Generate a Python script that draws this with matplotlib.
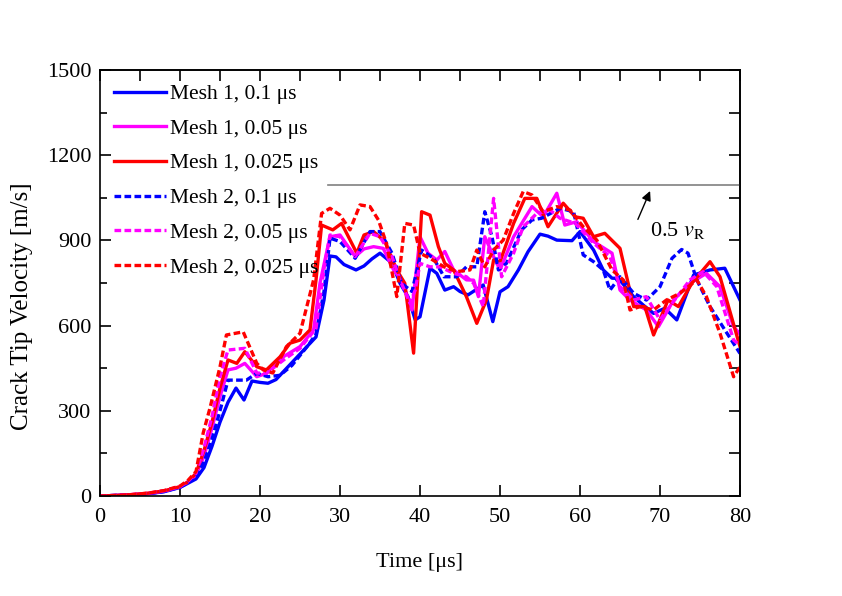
import matplotlib
matplotlib.use("Agg")
import matplotlib.pyplot as plt
from matplotlib.ticker import MultipleLocator

plt.rcParams['font.family'] = ['Liberation Serif', 'DejaVu Serif']
plt.rcParams['mathtext.fontset'] = 'stix'

# Mesh 1, 0.1 us
t_m1_01 = [0, 2, 4, 6, 8, 10, 11, 12, 13, 14, 15, 16, 17, 18, 19, 20, 21, 22, 23, 24, 25, 26, 27, 28, 28.75, 29.5,
           30.5, 32, 33, 34, 35, 36.5, 37.5, 38.5, 39.4, 40, 41.25, 42.1, 43.1, 44.2, 45, 46, 47.9, 49.1, 50, 51,
           52.3, 53.5, 55, 56, 57.1, 59, 60, 61.7, 62.9, 64, 64.8, 66.7, 68, 69.2, 70.6, 72.1, 74.2, 76.25, 78.1, 80]
v_m1_01 = [0, 2, 4, 8, 15, 30, 45, 60, 100, 175, 260, 330, 380, 338, 405, 400, 397, 410, 440, 470, 500, 530, 560, 690,
           845, 842, 815, 796, 810, 835, 855, 820, 749, 702, 620, 631, 802, 784, 725, 737, 720, 708, 743, 614, 719, 737,
           796, 860, 922, 915, 901, 899, 931, 866, 796, 767, 766, 702, 670, 643, 661, 620, 778, 796, 802, 690]

# Mesh 1, 0.05 us
t_m1_005 = [0, 2, 4, 6, 8, 10, 11, 12, 13, 14, 15, 16, 17, 18.1, 19.6, 20.8, 22.9, 25, 26.7, 27.5, 28.75, 30, 31.9, 33,
            34.2, 35.4, 36.7, 37.7, 39, 40, 41, 42.1, 43.1, 44.2, 45.8, 46.7, 47.3, 48.1, 49.2, 50, 51.7, 54, 55.4,
            57.1, 58.1, 59.6, 61.7, 64, 65, 66.25, 68.3, 69.8, 71.7, 73.75, 75.8, 77.5, 79.2, 80]
v_m1_005 = [0, 2, 5, 9, 17, 32, 50, 75, 140, 240, 350, 444, 450, 467, 420, 432, 490, 526, 585, 750, 913, 919, 843, 870,
            878, 872, 796, 761, 655, 913, 855, 831, 861, 796, 761, 760, 702, 913, 843, 796, 913, 1019, 983,
            1066, 954, 966, 896, 855, 725, 690, 655, 596, 690, 749, 784, 737, 596, 570]

# Mesh 1, 0.025 us
t_m1_0025 = [0, 2, 4, 6, 8, 10, 11, 12, 13, 14, 15, 16, 17.1, 18.1, 19.6, 20.8, 22.5, 23.75, 25, 26.25, 27, 27.7, 29.1,
             30.2, 32.1, 33, 34.2, 35.6, 37.1, 38.1, 39.2, 40.2, 41.25, 42.3, 43.1, 44.2, 45.8, 47.1, 48.3, 49.2, 50,
             51.7, 53.1, 54.6, 56, 57.9, 59.4, 60.4, 61.7, 63.1, 65, 66.7, 68.1, 69.2, 71, 72.3, 74, 76.25, 77.5, 80]
v_m1_0025 = [0, 2, 5, 10, 18, 33, 50, 80, 160, 260, 380, 479, 467, 508, 455, 444, 490, 538, 549, 585, 760, 954, 937,
             960, 855, 919, 931, 896, 796, 749, 503, 1001, 989, 878, 819, 796, 702, 608, 690, 831, 825,
             960, 1048, 1048, 948, 1031, 983, 978, 913, 925, 872, 667, 667, 567, 690, 667, 750, 825, 772, 526]

# Mesh 2, 0.1 us
t_m2_01 = [0, 2, 4, 6, 8, 10, 11, 12, 13, 14, 15, 16, 18.3, 19.6, 21, 22.5, 24, 26, 27, 28, 28.75, 30, 31.9, 33.75,
           35, 36.5, 37.7, 39, 40.2, 41.7, 43, 44.6, 45.8, 47.1, 48.1, 49, 49.8, 50.8, 52.7, 54, 55.2, 57.5, 59.2,
           60.4, 61.7, 62.9, 63.75, 65, 66.7, 68.3, 70, 71.5, 72.7, 73.5, 74.6, 76.25, 78.1, 80]
v_m2_01 = [0, 2, 4, 8, 16, 31, 47, 70, 120, 200, 300, 408, 408, 432, 420, 425, 460, 530, 570, 720, 908, 896, 837, 931,
           931, 855, 749, 720, 866, 837, 772, 772, 807, 807, 1001, 913, 796, 819, 937, 972, 978, 1013, 1001,
           849, 825, 796, 725, 772, 714, 690, 737, 837, 868, 855, 761, 667, 585, 502]

# Mesh 2, 0.05 us
t_m2_005 = [0, 2, 4, 6, 8, 10, 11, 12, 13, 14, 15, 16, 18.1, 19.6, 20.8, 23, 25, 27, 28, 28.75, 30, 31.9, 33.75, 35,
            36.5, 37.5, 38.75, 39.4, 40, 41.25, 42.5, 44.2, 45.8, 46.7, 47.9, 49.2, 50.2, 51.7, 52.9, 54.6, 56.25,
            57.5, 59.4, 61.7, 63.75, 65, 66.7, 68.3, 70, 71.5, 73.75, 75.4, 77.1, 79.2, 80]
v_m2_005 = [0, 2, 5, 9, 18, 33, 52, 80, 170, 280, 420, 514, 520, 433, 432, 480, 520, 590, 800, 919, 913, 843, 925, 913,
            843, 761, 678, 725, 819, 807, 807, 784, 772, 749, 667, 1048, 772, 855, 948, 995, 1007,
            978, 960, 890, 843, 737, 690, 702, 620, 678, 761, 790, 737, 549, 530]

# Mesh 2, 0.025 us
t_m2_0025 = [0, 2, 4, 6, 8, 10, 11, 12, 12.9, 13.75, 15, 15.8, 17.9, 19.6, 20.4, 21.6, 23.3, 25, 26.7, 27.7, 28.75,
             30, 31.25, 32.5, 33.75, 34.8, 35.8, 37.1, 38.1, 39.2, 40, 41.25, 43, 44.6, 46.25, 47.1, 48.1, 49.2, 50.4,
             51.7, 52.9, 54, 55.4, 57.1, 58.75, 60.4, 62.1, 64, 65.4, 66.25, 67.5, 69.2, 70.8, 72.5, 74.6, 75.8,
             77.5, 79.2, 80]
v_m2_0025 = [0, 2, 5, 10, 19, 35, 55, 86, 222, 310, 455, 567, 578, 467, 444, 433, 526, 573, 761, 995, 1013,
             989, 937, 1025, 1019, 972, 890, 702, 960, 954, 855, 837, 807, 790, 796, 866, 807, 866, 901,
             995, 1072, 1060, 1001, 1019, 1007, 948, 901, 796, 761, 655, 667, 655, 690, 714, 761, 702,
             573, 420, 455]

v_rayleigh_half = 1095  # 0.5 v_R

fig = plt.figure(figsize=(8.42, 5.96), dpi=100)
ax = fig.add_axes([100 / 842, 1 - 496 / 596, 640 / 842, 426 / 596])

lw = 2.4
ax.plot(t_m1_01, v_m1_01, color='#0000ff', lw=lw, label='Mesh 1, 0.1 μs')
ax.plot(t_m1_005, v_m1_005, color='#ff00ff', lw=lw, label='Mesh 1, 0.05 μs')
ax.plot(t_m1_0025, v_m1_0025, color='#ff0000', lw=lw, label='Mesh 1, 0.025 μs')
ax.plot(t_m2_01, v_m2_01, color='#0000ff', lw=lw, dashes=(2, 1), label='Mesh 2, 0.1 μs')
ax.plot(t_m2_005, v_m2_005, color='#ff00ff', lw=lw, dashes=(2, 1), label='Mesh 2, 0.05 μs')
ax.plot(t_m2_0025, v_m2_0025, color='#ff0000', lw=lw, dashes=(2, 1), label='Mesh 2, 0.025 μs')

ax.plot([28.5, 80], [v_rayleigh_half, v_rayleigh_half], color='#808080', lw=1.2)
ax.annotate('', xy=(68.9, 1083), xytext=(67.1, 965),
            arrowprops=dict(arrowstyle='-|>', color='black', lw=1.0, mutation_scale=14))
ax.text(68.7, 935, r'0.5 $v_{\mathrm{R}}$', fontsize=16, va='center', ha='left')

ax.set_xlim(0, 80)
ax.set_ylim(0, 1500)
ax.xaxis.set_major_locator(MultipleLocator(10))
ax.yaxis.set_major_locator(MultipleLocator(300))
ax.yaxis.set_minor_locator(MultipleLocator(150))
ax.tick_params(which='major', direction='in', length=8, width=1.2, labelsize=16, right=False, top=False)
ax.tick_params(which='minor', direction='in', length=5, width=1.2, right=False, top=False)
ax.tick_params(axis='x', pad=9)
ax.tick_params(axis='y', pad=6)

top = ax.secondary_xaxis('top')
top.set_xticks(range(0, 81, 5))
top.tick_params(direction='in', length=8, width=1.2, labeltop=False)
right = ax.secondary_yaxis('right')
right.set_yticks(range(0, 1501, 150))
right.tick_params(direction='in', length=8, width=1.2, labelright=False)

for sp in list(ax.spines.values()) + [top.spines['top'], right.spines['right']]:
    sp.set_linewidth(1.2)

ax.set_xlabel('Time [μs]', fontsize=16, labelpad=18)
ax.set_ylabel('Crack Tip Velocity [m/s]', fontsize=18)
ax.yaxis.set_label_coords(-0.104, 0.446)

ax.legend(loc='upper left', frameon=False, fontsize=15.5, handlelength=2.4, handletextpad=0.2,
          labelspacing=0.68, borderaxespad=0.35, borderpad=0.3)

fig.savefig('out.png', dpi=100)
